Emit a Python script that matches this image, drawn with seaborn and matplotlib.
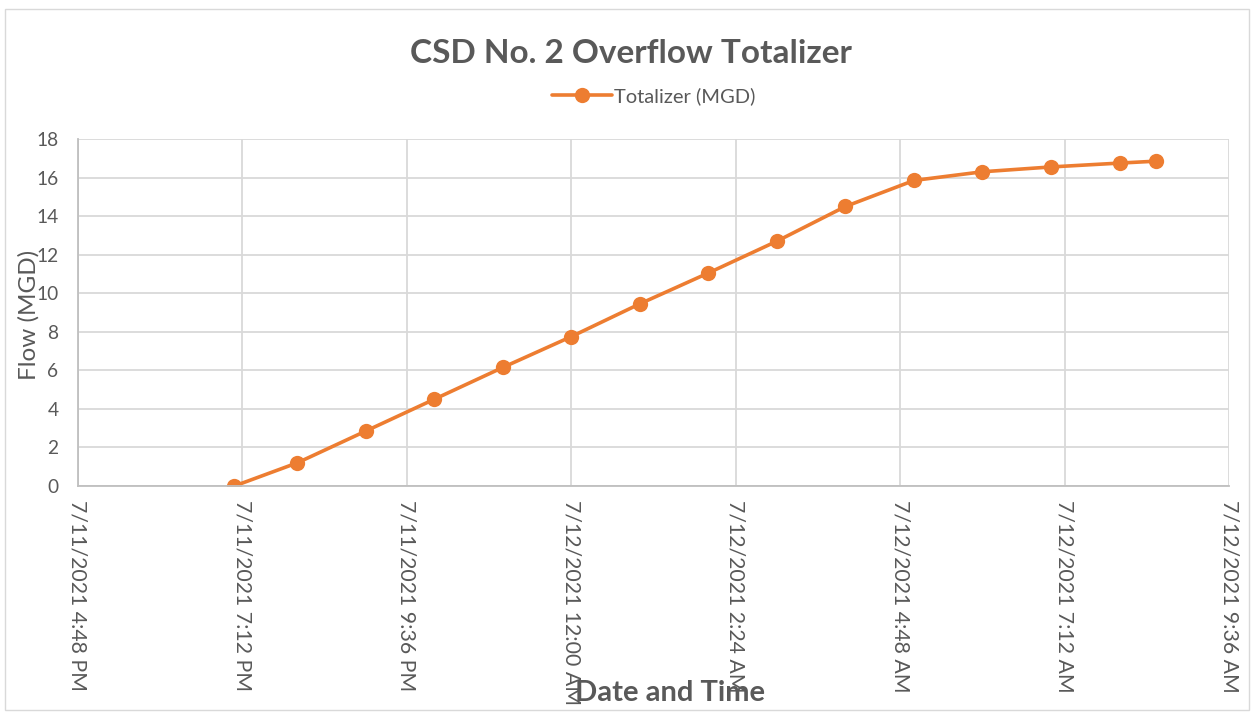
import pandas as pd
import matplotlib
matplotlib.use("Agg")
import matplotlib.pyplot as plt
import matplotlib.dates as mdates
from matplotlib.ticker import FuncFormatter
from matplotlib.patches import Rectangle
import seaborn as sns

# data
times = ["2021-07-11 19:05", "2021-07-11 20:00", "2021-07-11 21:00", "2021-07-11 22:00",
         "2021-07-11 23:00", "2021-07-12 00:00", "2021-07-12 01:00", "2021-07-12 02:00",
         "2021-07-12 03:00", "2021-07-12 04:00", "2021-07-12 05:00", "2021-07-12 06:00",
         "2021-07-12 07:00", "2021-07-12 08:00", "2021-07-12 08:32"]
totalizer = [0.0, 1.2, 2.85, 4.5, 6.15, 7.75, 9.45, 11.05,
             12.7, 14.5, 15.85, 16.3, 16.55, 16.75, 16.85]
series_name = "Totalizer (MGD)"

x_start = pd.Timestamp("2021-07-11 16:48")
x_end = pd.Timestamp("2021-07-12 09:36")
x_ticks = pd.date_range(x_start, x_end, freq="144min")

df = pd.DataFrame({"time": pd.to_datetime(times), "value": totalizer})

sns.set_style("white")
plt.rcParams["font.family"] = ["Lato", "DejaVu Sans"]

TEXT = "#595959"
ORANGE = "#ED7D31"

fig = plt.figure(figsize=(12.54, 7.15), dpi=100)
ax = fig.add_axes([0.0622, 0.3203, 0.918, 0.4853])

sns.lineplot(data=df, x="time", y="value", ax=ax, color=ORANGE, linewidth=2.6,
             marker="o", markersize=11, markeredgewidth=0, label=series_name)

ax.set_xlim(x_start, x_end)
ax.set_ylim(0, 18)
ax.set_yticks(range(0, 19, 2))
ax.set_xticks(x_ticks)


def fmt_date(v, pos):
    d = mdates.num2date(v)
    h = d.hour % 12 or 12
    ampm = "AM" if d.hour < 12 else "PM"
    return f"{d.month}/{d.day}/{d.year} {h}:{d.minute:02d} {ampm}"


ax.xaxis.set_major_formatter(FuncFormatter(fmt_date))
ax.tick_params(axis="x", labelrotation=270, labelsize=15.3, colors=TEXT, length=0, pad=10)
ax.tick_params(axis="y", labelsize=13.8, colors=TEXT, length=0, pad=14)
for lbl in ax.get_xticklabels():
    lbl.set_verticalalignment("top")
    lbl.set_horizontalalignment("center")

ax.grid(True, color="#d9d9d9", linewidth=1.3)
for side in ["top", "right"]:
    ax.spines[side].set_visible(False)
for side in ["left", "bottom"]:
    ax.spines[side].set_color("#bfbfbf")
    ax.spines[side].set_linewidth(1.3)

ax.set_xlabel("")
ax.set_ylabel("")
fig.text(0.023, 0.56, "Flow (MGD)", rotation=90, ha="center", va="center",
         fontsize=17.5, color=TEXT)
fig.text(0.534, 0.031, "Date and Time", ha="center", va="center",
         fontsize=21, fontweight="bold", color=TEXT)

fig.suptitle("CSD No. 2 Overflow Totalizer", x=0.503, y=0.9245, va="center",
             fontsize=24, fontweight="bold", color=TEXT)

leg = ax.legend(loc="center", bbox_to_anchor=(0.5, 1.124), frameon=False,
                fontsize=14.5, handlelength=3, handletextpad=0.1)
for t in leg.get_texts():
    t.set_color(TEXT)

fig.patches.append(Rectangle((0.004, 0.007), 0.992, 0.98, transform=fig.transFigure,
                             fill=False, edgecolor="#d9d9d9", linewidth=1))

fig.savefig("out.png", dpi=100)
